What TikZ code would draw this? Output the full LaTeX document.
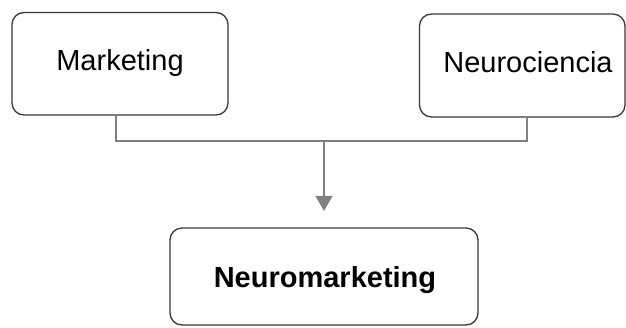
\documentclass[tikz,border=0pt]{standalone}
\usepackage{fontspec}
\setmainfont{Liberation Sans}
\usetikzlibrary{arrows.meta}
\definecolor{boxline}{HTML}{3A3A3A}
\definecolor{linkgray}{HTML}{808080}
\tikzset{
  box/.style={draw=boxline, line width=1.3pt, rounded corners=12pt, fill=white,
    rectangle, inner sep=0pt},
  label/.style={anchor=base, inner sep=0pt, font=\fontsize{29}{34}\selectfont},
  link/.style={draw=linkgray, line width=1.5pt},
}
\begin{document}
\begin{tikzpicture}[x=1pt,y=-1pt]
  \useasboundingbox (0,0) rectangle (626,327);
  % boxes
  \node[box, minimum width=216pt, minimum height=102.5pt] (mk) at (120,63.75) {};
  \node[box, minimum width=205.5pt, minimum height=103pt] (nc) at (522.25,65.5) {};
  \node[box, minimum width=308pt, minimum height=97pt] (nm) at (324,276.5) {};
  % texts
  \node[label] (tmk) at (120,70) {Marketing};
  \node[label] (tnc) at (528,72) {Neurociencia};
  \node[label, font=\fontsize{29}{34}\selectfont\bfseries] (tnm) at (325,287) {Neuromarketing};
  % connectors
  \coordinate (join) at (324,141);
  \draw[link] ([xshift=-4pt]mk.south) |- (join) -| ([xshift=4.75pt]nc.south);
  \draw[link, -{Triangle[width=17pt,length=15pt]}] (join) -- ([yshift=16.5pt]nm.north);
\end{tikzpicture}
\end{document}
